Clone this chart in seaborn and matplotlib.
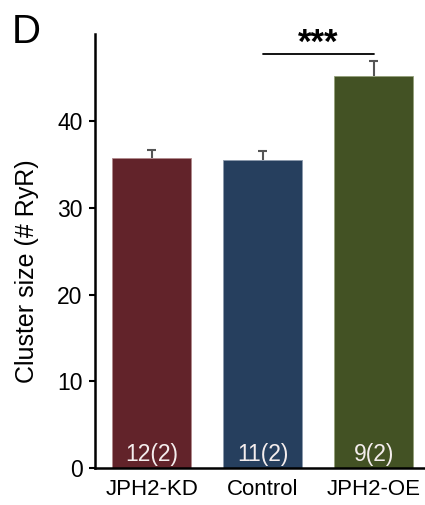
import matplotlib
matplotlib.use("Agg")
import matplotlib.pyplot as plt
import seaborn as sns
import numpy as np
import pandas as pd

# Mean RyR cluster size per group with SEM and n (cells / animals)
groups = ["JPH2-KD", "Control", "JPH2-OE"]
means = [35.8, 35.5, 45.2]
sems = [0.9, 1.1, 1.8]
counts = ["12(2)", "11(2)", "9(2)"]
colors = ["#62232a", "#263f5e", "#435224"]
edge_colors = ["#b08a8c", "#8c9aac", "#94a07a"]
yticks = [0, 10, 20, 30, 40]
sig_pair = (1, 2)
sig_y = 47.8

sns.set_theme(style="ticks")
plt.rcParams["font.family"] = ["Liberation Sans", "DejaVu Sans"]
plt.rcParams["text.color"] = "black"
plt.rcParams["axes.labelcolor"] = "black"

fig = plt.figure(figsize=(4.25, 5.05), dpi=100)
ax = fig.add_axes([0.2235, 0.0733, 0.7765, 0.8584])

df = pd.DataFrame({"group": groups, "mean": means})
sns.barplot(data=df, x="group", y="mean", hue="group", palette=colors,
            saturation=1, width=0.71, legend=False, ax=ax, zorder=2)
for patch, ec in zip(ax.patches, edge_colors):
    patch.set_edgecolor(ec)
    patch.set_linewidth(0.6)

# upper-only SEM whiskers
x = np.arange(len(groups))
m = np.array(means)
s = np.array(sems)
ax.vlines(x, m, m + s, color="#555555", lw=1.5, zorder=1)
ax.hlines(m + s, x - 0.04, x + 0.04, color="#555555", lw=1.5, zorder=1)

# n labels inside the bars
for xi, c in zip(x, counts):
    ax.text(xi, 1.5, c, ha="center", va="center", color="#f4eded",
            fontsize=16.5, zorder=3)

# significance bracket Control vs JPH2-OE
ax.plot(list(sig_pair), [sig_y, sig_y], color="black", lw=1.3, clip_on=False)
ax.text(np.mean(sig_pair), sig_y + 0.1, "***", ha="center", va="baseline",
        fontsize=25, fontweight="semibold", color="black", clip_on=False)

ax.set_ylim(0, 50)
ax.set_xlim(-0.51, 2.46)
ax.set_yticks(yticks)
ax.set_xlabel("")
ax.set_ylabel("Cluster size (# RyR)", fontsize=18, color="black")
ax.yaxis.set_label_coords(-0.17, 0.455)
ax.tick_params(axis="y", labelsize=16.5, length=4, width=1.5, pad=5,
               direction="out", color="black")
ax.tick_params(axis="x", labelsize=16, length=0, pad=8)
for t in ax.get_yticklabels() + ax.get_xticklabels():
    t.set_color("black")

sns.despine(ax=ax, top=True, right=True)
ax.spines["left"].set_linewidth(1.8)
ax.spines["bottom"].set_linewidth(1.8)
ax.spines["left"].set_color("black")
ax.spines["bottom"].set_color("black")

fig.text(0.028, 0.975, "D", fontsize=29, va="top", ha="left", color="black")

fig.savefig("out.png", dpi=100)
